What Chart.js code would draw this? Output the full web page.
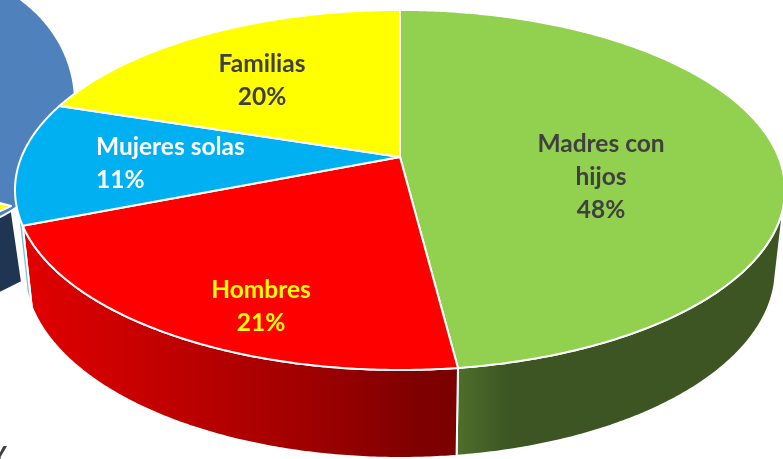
<!DOCTYPE html>
<html lang="es">
<head>
<meta charset="utf-8">
<title>Pastel</title>
<script src="https://cdn.jsdelivr.net/npm/chart.js@4/dist/chart.umd.min.js"></script>
<style>
    html, body { margin: 0; padding: 0; background: #fff; overflow: hidden; }
    canvas { display: block; }
</style>
</head>
<body>
<canvas id="pie" width="783" height="459"></canvas>
<script>
// Datos
const categories = ['Madres con hijos', 'Hombres', 'Mujeres solas', 'Familias'];
const percentages = [48, 21, 11, 20];
const sliceColors = ['#92d050', '#ff0000', '#00b0f0', '#ffff00'];

// Pastel de atras, cortado por el borde (valores estimados)
const backValues = [11, 89];
const backColors = ['#ffff00', '#4f81bd'];

const deg = Math.PI / 180;

// Perspectiva del pastel principal
const mainView = { cx: 400, cy: 157, R: 378.5, A: 174, k: 0.183 };
const wallFrom = 15 * deg;
const wallTo = 163 * deg;

const wallStops = [
    [[0, '#4f6f2c'], [0.16, '#3c5522'], [1, '#3c5522']],
    [[0, '#e20000'], [0.3, '#c40000'], [0.65, '#a00000'], [0.9, '#800000'], [1, '#7c0000']],
    [[0, '#6fc3e0'], [1, '#6fc3e0']]
];

function mainPoint(a) {
    const u = Math.cos(a), v = Math.sin(a);
    const w = 1 - mainView.k * v;
    return { x: mainView.cx + mainView.R * u / w, y: mainView.cy + mainView.A * v / w };
}

function mainBottom(a) {
    const p = mainPoint(a);
    return { x: mainView.cx + (p.x - mainView.cx) * 0.976, y: p.y + 77 + 11 * Math.sin(a) };
}

// Pastel de atras: elipse y vertice propios
const backView = { ax: 11, ay: 206, ex: -72, ey: 102, rx: 147, ry: 132 };

function backPoint(a) {
    const b = backView;
    const dx = Math.cos(a), dy = Math.sin(a);
    const ox = (b.ax - b.ex) / b.rx, oy = (b.ay - b.ey) / b.ry;
    const px = dx / b.rx, py = dy / b.ry;
    const qa = px * px + py * py;
    const qb = 2 * (ox * px + oy * py);
    const qc = ox * ox + oy * oy - 1;
    const t = (-qb + Math.sqrt(qb * qb - 4 * qa * qc)) / (2 * qa);
    return { x: b.ax + dx * t, y: b.ay + dy * t };
}

function tracePath(ctx, points) {
    ctx.beginPath();
    points.forEach((p, i) => i ? ctx.lineTo(p.x, p.y) : ctx.moveTo(p.x, p.y));
    ctx.closePath();
}

function sampleAngles(start, end) {
    const list = [];
    const steps = Math.max(2, Math.ceil((end - start) / (0.5 * deg)));
    for (let i = 0; i <= steps; i++) list.push(start + (end - start) * i / steps);
    return list;
}

function paint(ctx, points, fill, lineWidth) {
    tracePath(ctx, points);
    ctx.fillStyle = fill;
    ctx.fill();
    ctx.strokeStyle = '#fff';
    ctx.lineWidth = lineWidth;
    ctx.lineJoin = 'round';
    ctx.stroke();
}

function drawMain(chart, meta) {
    const ctx = chart.ctx;
    // primero las paredes, despues las tapas
    meta.data.forEach((arc, i) => {
        const start = Math.max(arc.startAngle, wallFrom);
        const end = Math.min(arc.endAngle, wallTo);
        if (end <= start) return;
        const angles = sampleAngles(start, end);
        const points = angles.map(mainPoint).concat(angles.slice().reverse().map(mainBottom));
        const xs = points.map(p => p.x);
        const left = Math.min(...xs), right = Math.max(...xs);
        const grad = ctx.createLinearGradient(left, 0, right, 0);
        wallStops[i].forEach(s => grad.addColorStop(s[0], s[1]));
        paint(ctx, points, grad, 2);
    });
    meta.data.forEach((arc, i) => {
        const apex = { x: mainView.cx, y: mainView.cy };
        const points = [apex].concat(sampleAngles(arc.startAngle, arc.endAngle).map(mainPoint));
        paint(ctx, points, sliceColors[i], 2);
    });
}

function drawBack(chart, meta) {
    const ctx = chart.ctx;
    const apex = { x: backView.ax, y: backView.ay };
    const shift = p => ({ x: p.x - 6, y: p.y + 86 });
    const yellow = meta.data[0];

    // cara del corte y pared del amarillo
    const rimEnd = backPoint(yellow.startAngle);
    paint(ctx, [apex, { x: apex.x + 11, y: apex.y + 76 }, shift(rimEnd), rimEnd], '#1f3552', 2);
    const angles = sampleAngles(yellow.startAngle, yellow.endAngle);
    const rim = angles.map(backPoint);
    paint(ctx, rim.concat(rim.slice().reverse().map(shift)), '#66660a', 2);

    meta.data.forEach((arc, i) => {
        const points = [apex].concat(sampleAngles(arc.startAngle, arc.endAngle).map(backPoint));
        paint(ctx, points, backColors[i], 2);
    });
}

const labelLines = [
    { lines: ['Madres con', 'hijos', '48%'], x: 601, y: 144, color: '#404040', align: 'center' },
    { lines: ['Hombres', '21%'], x: 261, y: 290, color: '#ffff00', align: 'center' },
    { lines: ['Mujeres solas', '11%'], x: 96, y: 147, color: '#ffffff', align: 'left' },
    { lines: ['Familias', '20%'], x: 262, y: 64, color: '#404040', align: 'center' }
];

const perspectivePie = {
    id: 'perspectivePie',
    beforeDatasetDraw(chart, args) {
        if (args.index === 0) drawMain(chart, args.meta);
        else drawBack(chart, args.meta);
        return false;
    },
    afterDraw(chart) {
        const ctx = chart.ctx;
        ctx.save();
        ctx.font = 'bold 24.5px Lato';
        ctx.textBaseline = 'middle';
        labelLines.forEach(l => {
            ctx.fillStyle = l.color;
            ctx.textAlign = l.align;
            l.lines.forEach((t, i) => ctx.fillText(t, l.x, l.y + i * 33));
        });
        // resto de un texto cortado en la esquina
        ctx.fillStyle = '#404040';
        ctx.textAlign = 'left';
        ctx.fillText('Y', -9, 456);
        ctx.restore();
    }
};

new Chart(document.getElementById('pie'), {
    type: 'pie',
    data: {
        labels: categories,
        datasets: [
            { data: percentages, backgroundColor: sliceColors },
            { data: backValues, backgroundColor: backColors, rotation: 245 }
        ]
    },
    options: {
        responsive: false,
        animation: false,
        plugins: { legend: { display: false }, tooltip: { enabled: false } }
    },
    plugins: [perspectivePie]
});
</script>
</body>
</html>
